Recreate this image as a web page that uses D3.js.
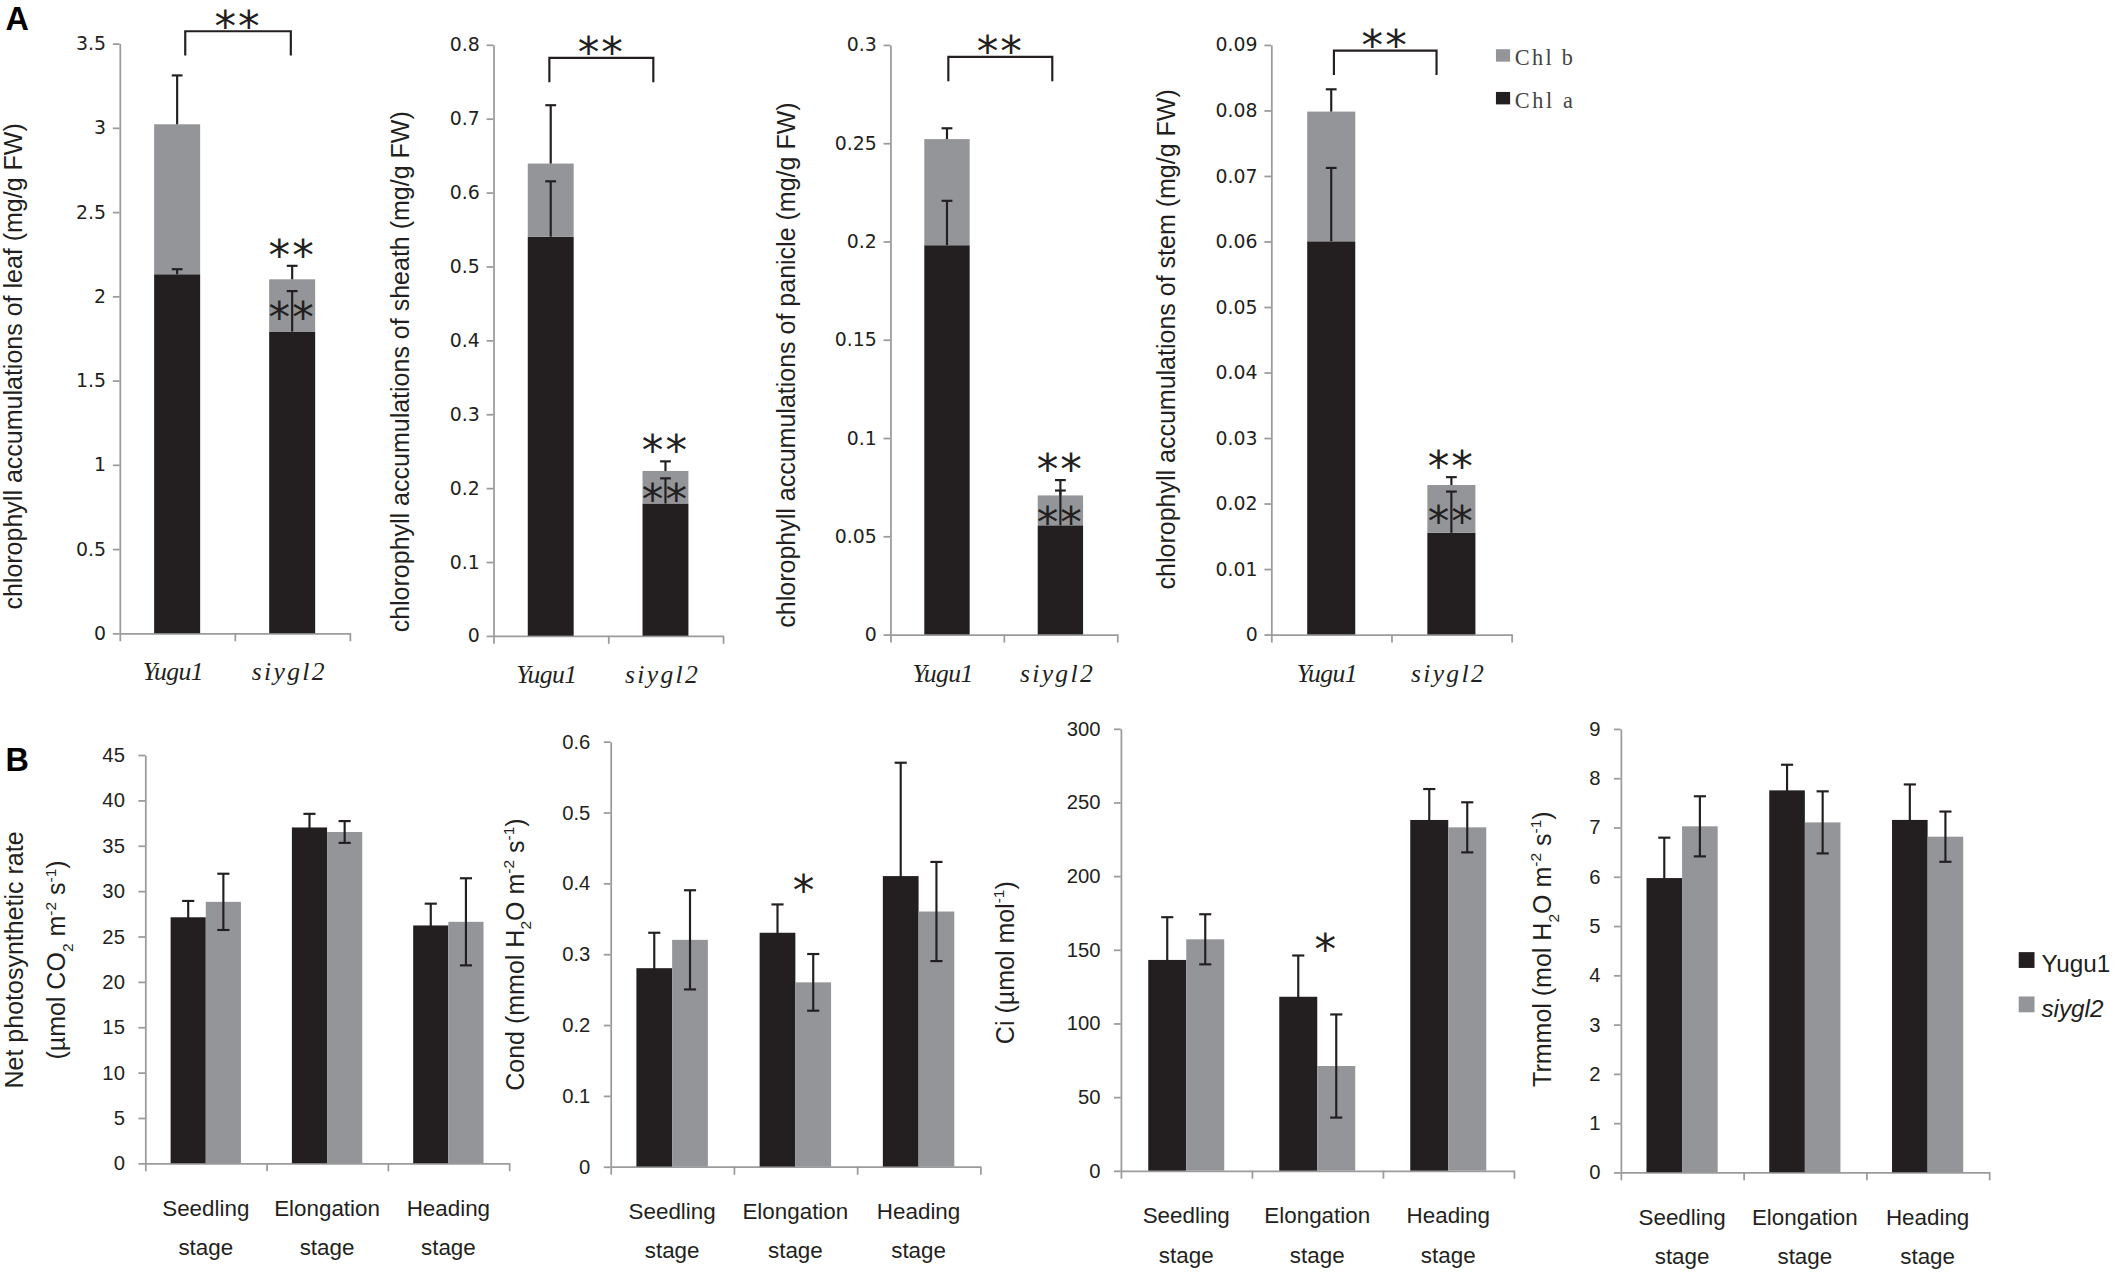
<!DOCTYPE html>
<html>
<head>
<meta charset="utf-8">
<script src="https://cdn.jsdelivr.net/npm/d3@7"></script>
<style>
  html, body { margin: 0; padding: 0; background: #fff; }
  svg { display: block; }
</style>
</head>
<body>
<script>
// ---- panel A: chlorophyll (stacked Chl a + Chl b) ----
const chlCats = ["Yugu1", "siygl2"];

const leafChlA = [2.13, 1.79];
const leafChlB = [0.89, 0.31];
const leafErrA = [0.03, 0.24];
const leafErrB = [0.29, 0.08];

const sheathChlA = [0.54, 0.179];
const sheathChlB = [0.099, 0.044];
const sheathErrA = [0.075, 0.034];
const sheathErrB = [0.079, 0.013];

const panicleChlA = [0.198, 0.0555];
const panicleChlB = [0.054, 0.0152];
const panicleErrA = [0.0226, 0.0177];
const panicleErrB = [0.0055, 0.0078];

const stemChlA = [0.060, 0.0155];
const stemChlB = [0.0198, 0.0073];
const stemErrA = [0.0112, 0.0063];
const stemErrB = [0.0034, 0.0012];

// ---- panel B: photosynthesis by stage ----
const stages = ["Seedling stage", "Elongation stage", "Heading stage"];
const lines = ["Yugu1", "siygl2"];

const pnYugu = [27.1, 37.0, 26.2];
const pnSiygl = [28.8, 36.5, 26.6];
const pnErrYugu = [1.8, 1.5, 2.4];
const pnErrSiygl = [3.1, 1.2, 4.8];

const condYugu = [0.28, 0.33, 0.41];
const condSiygl = [0.32, 0.26, 0.36];
const condErrYugu = [0.05, 0.04, 0.16];
const condErrSiygl = [0.07, 0.04, 0.07];

const ciYugu = [143, 118, 238];
const ciSiygl = [157, 71, 233];
const ciErrYugu = [29, 28, 21];
const ciErrSiygl = [17, 35, 17];

const trYugu = [5.97, 7.75, 7.15];
const trSiygl = [7.02, 7.10, 6.81];
const trErrYugu = [0.82, 0.52, 0.72];
const trErrSiygl = [0.61, 0.63, 0.51];

const black = "#231f20";
const grey = "#939598";
const axisGrey = "#9b9b9b";
const textCol = "#231f20";
const sans = "'Liberation Sans', Arial, sans-serif";

const svg = d3.select("body").append("svg")
    .attr("width", 2117)
    .attr("height", 1275)
    .attr("viewBox", "0 0 1568 943")
    .attr("preserveAspectRatio", "none");

const fmt = d => String(+d.toFixed(3));

const styleAxis = (g) => {
    g.selectAll("path, line").attr("stroke", axisGrey).attr("stroke-width", 1.3);
}

// rotated axis title built from pieces: [text, "sub" | "sup" | null]
const richLabel = (g, x, y, parts, size) => {
    const t = g.append("text")
        .attr("transform", `translate(${x},${y}) rotate(-90)`)
        .attr("text-anchor", "middle")
        .attr("dy", "0.35em")
        .style("font-family", sans)
        .style("font-size", size + "px")
        .style("fill", textCol);
    let shift = 0;
    parts.forEach(([txt, kind]) => {
        let target = 0;
        if (kind == "sub") target = 0.3 * size;
        if (kind == "sup") target = -0.4 * size;
        t.append("tspan")
            .attr("dy", target - shift)
            .style("font-size", kind ? (0.62 * size) + "px" : null)
            .text(txt);
        shift = target;
    });
    return t;
}

const stars = (g, cx, cy, str) => {
    g.append("text")
        .attr("x", cx)
        .attr("y", cy + 18)
        .attr("text-anchor", "middle")
        .style("font-family", "'DejaVu Sans', sans-serif")
        .style("font-size", "32px")
        .style("letter-spacing", str.length > 1 ? "1.5px" : null)
        .style("fill", textCol)
        .text(str);
}

const drawChlPanel = (cfg) => {
    const g = svg.append("g");
    const y = d3.scaleLinear().domain([0, cfg.max]).range([cfg.bottom, cfg.top]);
    const x = d3.scaleBand().domain(chlCats).range([cfg.left, cfg.right])
        .paddingInner(0.6).paddingOuter(0.3);
    const xt = d3.scaleLinear().domain([0, chlCats.length]).range([cfg.left, cfg.right]);

    g.append("g")
        .attr("transform", `translate(${cfg.left},0)`)
        .call(d3.axisLeft(y)
            .tickValues(d3.range(0, cfg.max + cfg.step / 2, cfg.step))
            .tickSize(5).tickSizeOuter(0).tickPadding(5)
            .tickFormat(fmt))
        .call(styleAxis)
        .call(a => a.selectAll("text")
            .style("font-family", "'DejaVu Sans', Verdana, sans-serif")
            .style("font-size", "14px")
            .style("fill", textCol));

    g.append("g")
        .attr("transform", `translate(0,${cfg.bottom})`)
        .call(d3.axisBottom(xt).tickValues([0, 1, 2]).tickSize(6).tickSizeOuter(0).tickFormat(""))
        .call(styleAxis);

    g.selectAll("text.cat")
        .data(chlCats)
        .join("text")
        .attr("class", "cat")
        .attr("x", d => x(d) + x.bandwidth() / 2 - 3)
        .attr("y", cfg.bottom + 35)
        .attr("text-anchor", "middle")
        .attr("textLength", d => d.length * 9)
        .attr("lengthAdjust", "spacing")
        .style("font-family", "'Liberation Serif', 'Times New Roman', serif")
        .style("font-style", "italic")
        .style("font-size", "19px")
        .style("fill", textCol)
        .text(d => d);

    const rows = chlCats.map((c, i) => ({cat: c, a: cfg.a[i], b: cfg.b[i], ea: cfg.ea[i], eb: cfg.eb[i]}));
    const stacked = d3.stack().keys(["a", "b"])(rows);
    const colors = {a: black, b: grey};

    g.selectAll("g.layer")
        .data(stacked)
        .join("g")
        .attr("class", "layer")
        .attr("fill", d => colors[d.key])
        .selectAll("rect")
        .data(d => d)
        .join("rect")
        .attr("x", d => x(d.data.cat))
        .attr("width", x.bandwidth())
        .attr("y", d => y(d[1]))
        .attr("height", d => y(d[0]) - y(d[1]));

    // error bars (plus side only, as in the original)
    const errs = [];
    rows.forEach(r => {
        errs.push({cat: r.cat, from: r.a, to: r.a + r.ea});
        errs.push({cat: r.cat, from: r.a + r.b, to: r.a + r.b + r.eb});
    });
    const eg = g.selectAll("g.err")
        .data(errs)
        .join("g")
        .attr("class", "err")
        .attr("stroke", black)
        .attr("stroke-width", 1.6);
    eg.append("line")
        .attr("x1", d => x(d.cat) + x.bandwidth() / 2)
        .attr("x2", d => x(d.cat) + x.bandwidth() / 2)
        .attr("y1", d => y(d.from))
        .attr("y2", d => y(d.to));
    eg.append("line")
        .attr("x1", d => x(d.cat) + x.bandwidth() / 2 - 4)
        .attr("x2", d => x(d.cat) + x.bandwidth() / 2 + 4)
        .attr("y1", d => y(d.to))
        .attr("y2", d => y(d.to));

    // significance
    const mut = rows[1];
    const mx = x(mut.cat) + x.bandwidth() / 2;
    stars(g, mx, y(mut.a + mut.b + mut.eb) - 15, "**");
    stars(g, mx, (y(mut.a) + y(mut.a + mut.b)) / 2 + 2, "**");

    const bx0 = x(chlCats[0]) + x.bandwidth() / 2 + cfg.bOff[0];
    const bx1 = x(chlCats[1]) + x.bandwidth() / 2 + cfg.bOff[1];
    const by = y(cfg.bracket);
    g.append("path")
        .attr("d", `M${bx0},${by + 18}V${by}H${bx1}V${by + 18}`)
        .attr("fill", "none")
        .attr("stroke", black)
        .attr("stroke-width", 1.6);
    stars(g, (bx0 + bx1) / 2, by - 11, "**");

    richLabel(g, cfg.labelX, cfg.labelY, [[cfg.label, null]], 18.5);
}

drawChlPanel({left: 88.6, right: 259, top: 32.1, bottom: 468.3, max: 3.5, step: 0.5,
    a: leafChlA, b: leafChlB, ea: leafErrA, eb: leafErrB, bracket: 3.572, bOff: [6, -1],
    label: "chlorophyll accumulations of leaf (mg/g FW)", labelX: 16, labelY: 271});
drawChlPanel({left: 365.4, right: 535.4, top: 33, bottom: 470.2, max: 0.8, step: 0.1,
    a: sheathChlA, b: sheathChlB, ea: sheathErrA, eb: sheathErrB, bracket: 0.782, bOff: [-1, -9],
    label: "chlorophyll accumulations of sheath (mg/g FW)", labelX: 303, labelY: 275});
drawChlPanel({left: 659.4, right: 827.4, top: 33.1, bottom: 469.2, max: 0.3, step: 0.05,
    a: panicleChlA, b: panicleChlB, ea: panicleErrA, eb: panicleErrB, bracket: 0.2938, bOff: [1, -6],
    label: "chlorophyll accumulations of panicle (mg/g FW)", labelX: 589, labelY: 270});
drawChlPanel({left: 941.5, right: 1119.5, top: 33.1, bottom: 469.2, max: 0.09, step: 0.01,
    a: stemChlA, b: stemChlB, ea: stemErrA, eb: stemErrB, bracket: 0.0891, bOff: [2, -11],
    label: "chlorophyll accumulations of stem (mg/g FW)", labelX: 870, labelY: 251});

// legend A
const legA = svg.append("g");
[["Chl b", grey, 36.4], ["Chl a", black, 68]].forEach(([name, col, ly]) => {
    legA.append("rect").attr("x", 1108).attr("y", ly).attr("width", 10.5).attr("height", 9.2).attr("fill", col);
    legA.append("text").attr("x", 1122).attr("y", ly + 12)
        .attr("textLength", 43).attr("lengthAdjust", "spacing")
        .style("font-family", "'Liberation Serif', serif")
        .style("font-size", "16.5px")
        .style("fill", "#444")
        .text(name);
});

// ---- panel B ----
const drawStagePanel = (cfg) => {
    const g = svg.append("g");
    const y = d3.scaleLinear().domain([0, cfg.max]).range([cfg.bottom, cfg.top]);
    const x = d3.scaleBand().domain(stages).range([cfg.left, cfg.right])
        .paddingInner(0.42).paddingOuter(0.21);
    const xs = d3.scaleBand().domain(lines).range([0, x.bandwidth()]);
    const xt = d3.scaleLinear().domain([0, stages.length]).range([cfg.left, cfg.right]);

    g.append("g")
        .attr("transform", `translate(${cfg.left},0)`)
        .call(d3.axisLeft(y)
            .tickValues(d3.range(0, cfg.max + cfg.step / 2, cfg.step))
            .tickSize(5).tickSizeOuter(0).tickPadding(10)
            .tickFormat(fmt))
        .call(styleAxis)
        .call(a => a.selectAll("text")
            .style("font-family", sans)
            .style("font-size", "15px")
            .style("fill", textCol));

    g.append("g")
        .attr("transform", `translate(0,${cfg.bottom})`)
        .call(d3.axisBottom(xt).tickValues([0, 1, 2, 3]).tickSize(6).tickSizeOuter(0).tickFormat(""))
        .call(styleAxis);

    const cats = g.selectAll("text.stage")
        .data(stages)
        .join("text")
        .attr("class", "stage")
        .attr("text-anchor", "middle")
        .style("font-family", sans)
        .style("font-size", "16.6px")
        .style("fill", textCol);
    cats.selectAll("tspan")
        .data(d => d.split(" ").map(w => ({w, s: d})))
        .join("tspan")
        .attr("x", d => x(d.s) + x.bandwidth() / 2)
        .attr("y", (d, i) => cfg.bottom + 39 + i * 29)
        .text(d => d.w);

    const rows = [];
    stages.forEach((s, i) => {
        rows.push({stage: s, line: lines[0], v: cfg.v0[i], e: cfg.e0[i]});
        rows.push({stage: s, line: lines[1], v: cfg.v1[i], e: cfg.e1[i]});
    });
    const color = d3.scaleOrdinal().domain(lines).range([black, grey]);

    g.selectAll("rect.bar")
        .data(rows)
        .join("rect")
        .attr("class", "bar")
        .attr("x", d => x(d.stage) + xs(d.line))
        .attr("width", xs.bandwidth())
        .attr("y", d => y(d.v))
        .attr("height", d => y(0) - y(d.v))
        .attr("fill", d => color(d.line));

    const cx = d => x(d.stage) + xs(d.line) + xs.bandwidth() / 2;
    const eg = g.selectAll("g.err")
        .data(rows)
        .join("g")
        .attr("class", "err")
        .attr("stroke", black)
        .attr("stroke-width", 1.6);
    eg.append("line")
        .attr("x1", cx).attr("x2", cx)
        .attr("y1", d => y(d.v - d.e))
        .attr("y2", d => y(d.v + d.e));
    [1, -1].forEach(sg => {
        eg.append("line")
            .attr("x1", d => cx(d) - 4.5).attr("x2", d => cx(d) + 4.5)
            .attr("y1", d => y(d.v + sg * d.e))
            .attr("y2", d => y(d.v + sg * d.e));
    });

    if (cfg.star) {
        stars(g, x(cfg.star[0]) + x.bandwidth() / 2 + 6, y(cfg.star[1]), "*");
    }

    cfg.labels.forEach((parts, i) => {
        richLabel(g, cfg.labelX[i], cfg.labelY, parts, 18.5);
    });
}

drawStagePanel({left: 107.5, right: 377, top: 558.3, bottom: 860.3, max: 45, step: 5,
    v0: pnYugu, v1: pnSiygl, e0: pnErrYugu, e1: pnErrSiygl,
    labels: [[["Net photosynthetic rate", null]],
             [["(µmol CO", null], ["2", "sub"], [" m", null], ["-2", "sup"], [" s", null], ["-1", "sup"], [")", null]]],
    labelX: [17, 48.5], labelY: 710});
drawStagePanel({left: 452.2, right: 726, top: 548.4, bottom: 862.8, max: 0.6, step: 0.1,
    v0: condYugu, v1: condSiygl, e0: condErrYugu, e1: condErrSiygl, star: ["Elongation stage", 0.403],
    labels: [[["Cond (mmol H", null], ["2", "sub"], ["O m", null], ["-2", "sup"], [" s", null], ["-1", "sup"], [")", null]]],
    labelX: [388], labelY: 706});
drawStagePanel({left: 830.1, right: 1121.2, top: 538.9, bottom: 865.8, max: 300, step: 50,
    v0: ciYugu, v1: ciSiygl, e0: ciErrYugu, e1: ciErrSiygl, star: ["Elongation stage", 157],
    labels: [[["Ci (µmol mol", null], ["-1", "sup"], [")", null]]],
    labelX: [751], labelY: 712});
drawStagePanel({left: 1200.4, right: 1473.2, top: 539, bottom: 867, max: 9, step: 1,
    v0: trYugu, v1: trSiygl, e0: trErrYugu, e1: trErrSiygl,
    labels: [[["Trmmol (mol H", null], ["2", "sub"], ["O m", null], ["-2", "sup"], [" s", null], ["-1", "sup"], [")", null]]],
    labelX: [1149], labelY: 702});

// legend B
const legB = svg.append("g");
[["Yugu1", black, 704.2, "normal"], ["siygl2", grey, 737, "italic"]].forEach(([name, col, ly, st]) => {
    legB.append("rect").attr("x", 1495.2).attr("y", ly).attr("width", 11.7).attr("height", 11.7).attr("fill", col);
    legB.append("text").attr("x", 1512).attr("y", ly + 15)
        .style("font-family", sans).style("font-size", "18px")
        .style("font-style", st).style("fill", textCol)
        .text(name);
});

// panel letters
[["A", 22.5], ["B", 570]].forEach(([t, ly]) => {
    svg.append("text").attr("x", 4).attr("y", ly)
        .style("font-family", sans)
        .style("font-weight", "bold").style("font-size", "24px").style("fill", "#000")
        .text(t);
});
</script>
</body>
</html>
